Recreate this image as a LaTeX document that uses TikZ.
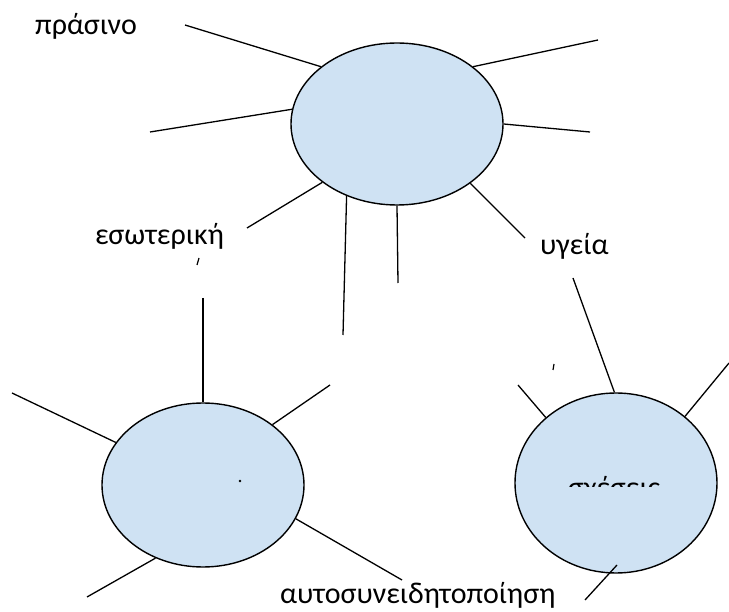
\documentclass[tikz,border=0pt]{standalone}
\usepackage{fontspec}
\setmainfont{Carlito}
\usetikzlibrary{shapes.geometric}
\definecolor{bubble}{RGB}{207,226,243}
\tikzset{
  bub/.style={ellipse, draw=black, line width=1.4pt, fill=bubble, inner sep=0pt},
  spoke/.style={line width=1.3pt, black},
  lab/.style={anchor=base west, inner sep=0pt, font=\fontsize{30}{34}\selectfont},
}
\begin{document}
\begin{tikzpicture}[x=1pt,y=-1pt]
\useasboundingbox (0,0) rectangle (729,612);
% bubbles
\node[bub, minimum width=212pt, minimum height=162pt] (top) at (397,124) {};
\node[bub, minimum width=202pt, minimum height=164pt] (bl) at (203,485) {};
\node[bub, minimum width=202pt, minimum height=180pt] (br) at (616,483) {};
% free ends
\coordinate (t1) at (185,25);
\coordinate (t2) at (598,40);
\coordinate (t3) at (150,132);
\coordinate (t4) at (590,132);
\coordinate (t5) at (247,228);
\coordinate (t6) at (343,335);
\coordinate (t7) at (398,283);
\coordinate (t8) at (525,238);
\coordinate (b1) at (203,298);
\coordinate (b2) at (12,393);
\coordinate (b3) at (330,385);
\coordinate (b4) at (402,580);
\coordinate (b5) at (87,597);
\coordinate (r1) at (573,278);
\coordinate (r2) at (518,385);
\coordinate (r3) at (729,363);
\coordinate (r4) at (585,600);
\coordinate (r4e) at (617,565);
% spokes
\draw[spoke] (t1) -- (top.143);
\draw[spoke] (t2) -- (top.37.7);
\draw[spoke] (t3) -- (top.172.5);
\draw[spoke] (t4) -- (top.-0.5);
\draw[spoke] (t5) -- (top.218.2);
\draw[spoke] (t6) -- (top.235.9);
\draw[spoke] (t7) -- (top.270);
\draw[spoke] (t8) -- (top.321.8);
\draw[spoke] (b1) -- (bl.90);
\draw[spoke] (b2) -- (bl.154.2);
\draw[spoke] (b3) -- (bl.41.8);
\draw[spoke] (b4) -- (bl.-20.8);
\draw[spoke] (b5) -- (bl.237.8);
\draw[spoke] (r1) -- (br.91.9);
\draw[spoke] (r2) -- (br.137.9);
\draw[spoke] (r3) -- (br.44.2);
\draw[spoke] (r4) -- (r4e);
% stray marks
\draw[line width=1.2pt] (199,258) -- (197,265);
\draw[line width=1.2pt] (554,364) -- (553,370);
\fill (240,481) circle (1.3pt);
% labels
\node[lab] (l1) at (35,35) {πράσινο};
\node[lab] (l2) at (95,245) {εσωτερική};
\node[lab] (l3) at (540,255) {υγεία};
\node[lab] (l4) at (280,603) {αυτοσυνειδητοποίηση};
\begin{scope}
  \clip (540,470) rectangle (690,487);
  \node[lab, anchor=base] (l5) at (614,497) {σχέσεις};
\end{scope}
\end{tikzpicture}
\end{document}
